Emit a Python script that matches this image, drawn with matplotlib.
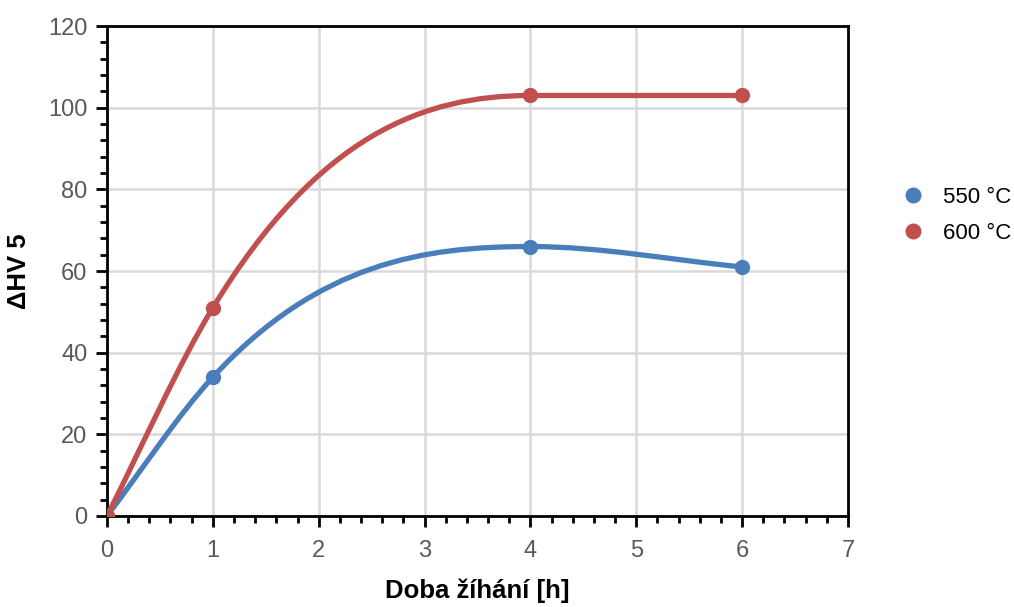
import matplotlib.pyplot as plt
from matplotlib.path import Path
from matplotlib.patches import PathPatch
from matplotlib.ticker import MultipleLocator

plt.rcParams['font.family'] = ['Liberation Sans', 'DejaVu Sans']

# data
time_h = [0, 1, 4, 6]
hv_550 = [0, 34, 66, 61]
hv_600 = [0, 51, 103, 103]
labels = ['550 °C', '600 °C']
colors = ['#4a7ebb', '#c0504d']


def smooth_path(xs, ys):
    # smoothed line drawn as cubic Bezier segments through the points
    n = len(xs)
    h = [xs[i + 1] - xs[i] for i in range(n - 1)]
    d = [(ys[i + 1] - ys[i]) / h[i] for i in range(n - 1)]
    m = [d[0]] + [0.0] * (n - 2) + [d[-1]]
    for i in range(1, n - 1):
        if d[i - 1] * d[i] <= 0:
            m[i] = 0.0  # flat at a peak / plateau
        else:
            m[i] = (h[i - 1] * d[i] + h[i] * d[i - 1]) / (h[i - 1] + h[i])
    verts = [(xs[0], ys[0])]
    codes = [Path.MOVETO]
    for i in range(n - 1):
        k = h[i] / 3
        verts += [(xs[i] + k, ys[i] + m[i] * k),
                  (xs[i + 1] - k, ys[i + 1] - m[i + 1] * k),
                  (xs[i + 1], ys[i + 1])]
        codes += [Path.CURVE4] * 3
    return Path(verts, codes)


fig = plt.figure(figsize=(10.14, 6.07), dpi=100)
ax = fig.add_axes([0.1055, 0.150, 0.7308, 0.807])

for ys, lab, col in zip([hv_550, hv_600], labels, colors):
    ax.add_patch(PathPatch(smooth_path(time_h, ys), facecolor='none',
                           edgecolor=col, lw=3.8, capstyle='round', zorder=3))
    ax.plot(time_h, ys, 'o', color=col, ms=10, label=lab, zorder=4)

ax.set_xlim(0, 7)
ax.set_ylim(0, 120)
ax.xaxis.set_major_locator(MultipleLocator(1))
ax.xaxis.set_minor_locator(MultipleLocator(0.2))
ax.yaxis.set_major_locator(MultipleLocator(20))
ax.yaxis.set_minor_locator(MultipleLocator(4))
ax.grid(True, which='major', color='#d9d9d9', lw=1.8, zorder=0)
ax.set_axisbelow(True)

for s in ax.spines.values():
    s.set_color('black')
    s.set_linewidth(2)

ax.tick_params(which='major', direction='out', length=8, width=2, color='black',
               labelsize=17, labelcolor='#595959')
ax.tick_params(axis='x', which='major', pad=9)
ax.tick_params(axis='y', which='major', pad=6)
ax.tick_params(which='minor', direction='out', length=5, width=2, color='black')

ax.set_xlabel('Doba žíhání [h]', fontsize=18.5, fontweight='bold', labelpad=12)
ax.set_ylabel('ΔHV 5', fontsize=18.5, fontweight='bold', labelpad=12)

ax.legend(loc='center left', bbox_to_anchor=(1.043, 0.613), frameon=False,
          fontsize=16, handletextpad=0.75, labelspacing=0.68, handlelength=1.2,
          markerscale=1.05)

fig.savefig('out.png', dpi=100)
